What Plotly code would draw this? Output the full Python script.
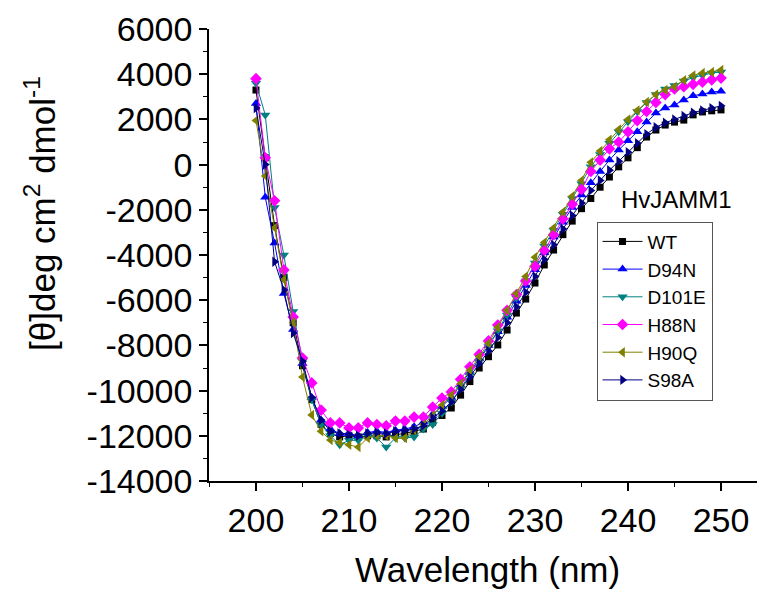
import plotly.graph_objects as go

wavelength = list(range(200, 251))

wt = [3300, 300, -2700, -5000, -7000, -8900, -10400, -11500, -11900, -12050,
      -12000, -12050, -12000, -12000, -12050, -11950, -11900, -11800, -11700, -11400,
      -11100, -10770, -10200, -9600, -9000, -8500, -7980, -7320, -6570, -5950,
      -5240, -4440, -3780, -3100, -2500, -1950, -1500, -1000, -550, -100,
      300, 750, 1220, 1530, 1750, 1880, 1970, 2200, 2330, 2380, 2420]

d94n = [2700, -1450, -3470, -5700, -7300, -8800, -10300, -11300, -11700, -11900,
        -11900, -12000, -11850, -11800, -11850, -11750, -11700, -11600, -11400, -11050,
        -10700, -10300, -9750, -9200, -8600, -8000, -7400, -6750, -6050, -5350,
        -4650, -3900, -3200, -2550, -1900, -1350, -800, -300, 200, 650,
        1050, 1450, 1880, 2280, 2500, 2640, 2860, 3050, 3120, 3210, 3250]

d101e = [3600, 2200, -1900, -4000, -6500, -8700, -10400, -11500, -12000, -12400,
         -12200, -12200, -12000, -12100, -12500, -12100, -12100, -12050, -11700, -11500,
         -11000, -10500, -9900, -9300, -8700, -8050, -7350, -6650, -5900, -5150,
         -4350, -3600, -2900, -2200, -1500, -850, -100, 450, 950, 1450,
         1900, 2350, 2750, 3100, 3350, 3500, 3700, 3850, 3950, 4050, 4100]

h88n = [3800, 300, -1600, -4660, -6740, -8560, -9660, -10860, -11430, -11430,
        -11650, -11650, -11430, -11500, -11560, -11350, -11350, -11170, -11170, -10730,
        -10330, -10060, -9500, -8950, -8400, -7800, -7100, -6450, -5750, -5150,
        -4500, -3800, -3100, -2400, -1750, -1100, -300, 200, 700, 1000,
        1450, 1950, 2350, 2750, 3100, 3350, 3450, 3550, 3650, 3750, 3830]

h90q = [1950, -500, -2800, -5100, -7000, -9400, -11080, -11800, -12190, -12300,
        -12400, -12500, -12100, -12000, -12000, -12100, -12100, -11750, -11500, -11100,
        -10650, -10200, -9700, -9100, -8500, -7900, -7200, -6450, -5700, -4950,
        -4100, -3450, -2800, -2100, -1400, -700, 100, 600, 1100, 1550,
        2000, 2400, 2770, 3100, 3300, 3450, 3740, 3950, 4050, 4100, 4190]

s98a = [2500, 0, -4300, -5550, -7450, -8700, -10300, -11300, -11800, -11900,
        -11950, -12000, -11900, -11850, -11900, -11800, -11750, -11700, -11550, -11200,
        -10900, -10500, -9950, -9400, -8800, -8250, -7650, -7000, -6300, -5650,
        -4950, -4200, -3550, -2850, -2250, -1700, -1150, -700, -250, 150,
        550, 950, 1350, 1650, 1850, 2000, 2150, 2300, 2400, 2500, 2600]

series_names = ["WT", "D94N", "D101E", "H88N", "H90Q", "S98A"]
series_values = [wt, d94n, d101e, h88n, h90q, s98a]
colors = ["#000000", "#0000FF", "#008080", "#FF00FF", "#808000", "#000080"]
symbols = ["square", "triangle-up", "triangle-down", "diamond", "triangle-left", "triangle-right"]
sizes = [7, 9, 9, 9, 9, 9]

y_ticks = list(range(-14000, 6001, 2000))
x_ticks = list(range(200, 251, 10))

fig = go.Figure()
for name, vals, c, s, sz in zip(series_names, series_values, colors, symbols, sizes):
    fig.add_trace(go.Scatter(
        x=wavelength, y=vals, name=name, mode="lines+markers",
        line=dict(color=c, width=1),
        marker=dict(symbol=s, size=sz, color=c, line=dict(width=0)),
    ))

font_family = "Liberation Sans, Arial, sans-serif"
fig.update_layout(
    width=765, height=590,
    margin=dict(l=201, r=8, t=21, b=117, autoexpand=False),
    paper_bgcolor="white", plot_bgcolor="white",
    font=dict(family=font_family, color="black"),
    showlegend=True,
    legend=dict(
        x=0.697, y=0.574, xanchor="left", yanchor="top",
        bordercolor="#555555", borderwidth=1, bgcolor="rgba(255,255,255,0)",
        font=dict(size=19, family=font_family, color="black"),
        tracegroupgap=0, itemwidth=40, entrywidth=100, entrywidthmode="pixels",
    ),
    xaxis=dict(
        range=[194.95, 254.73], tickvals=x_ticks, ticktext=[str(v) for v in x_ticks],
        showgrid=False, zeroline=False, showline=True, linecolor="black", linewidth=1.5,
        ticks="outside", ticklen=8, tickwidth=1.5, tickcolor="black", automargin=False,
        tickfont=dict(size=34, family=font_family, color="black"),
        minor=dict(dtick=5, tick0=195, ticks="outside", ticklen=4, tickwidth=1, tickcolor="black"),
    ),
    yaxis=dict(
        range=[-14000, 6000], tickvals=y_ticks, ticktext=[str(v) for v in y_ticks],
        showgrid=False, zeroline=False, showline=True, linecolor="black", linewidth=1.5,
        ticks="outside", ticklen=8, tickwidth=1.5, tickcolor="black", automargin=False,
        tickfont=dict(size=34, family=font_family, color="black"),
        minor=dict(dtick=1000, tick0=-14000, ticks="outside", ticklen=4, tickwidth=1, tickcolor="black"),
    ),
    annotations=[
        dict(text="[θ]deg cm<sup>2</sup> dmol<sup>-1</sup>", xref="paper", yref="paper",
             x=-0.304, y=0.593, xanchor="center", yanchor="middle", textangle=-90, showarrow=False,
             font=dict(size=35, family=font_family, color="black")),
        dict(text="Wavelength (nm)", xref="paper", yref="paper",
             x=0.5, y=-0.195, xanchor="center", yanchor="middle", showarrow=False,
             font=dict(size=35, family=font_family, color="black")),
        dict(text="HvJAMM1", xref="paper", yref="paper",
             x=0.840, y=0.622, xanchor="center", yanchor="middle", showarrow=False,
             font=dict(size=24, family=font_family, color="black")),
    ],
)

fig.write_html("out.html")
